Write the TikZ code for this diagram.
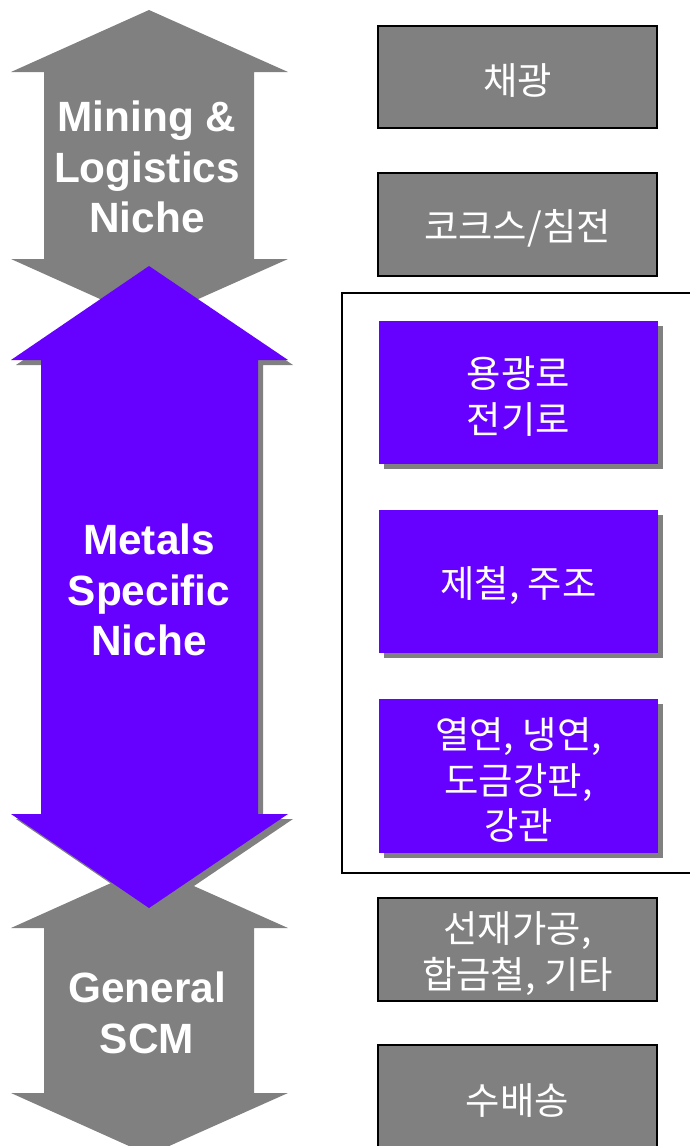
\documentclass[tikz,border=0pt]{standalone}
\usepackage{fontspec}
\setmainfont{Liberation Sans}
\newfontfamily\kr{Noto Sans CJK KR}
\definecolor{vio}{RGB}{102,0,255}
\definecolor{gr}{RGB}{128,128,128}
\begin{document}
\begin{tikzpicture}[x=1bp,y=-1bp,
  arrowtext/.style={text=white,font=\fontsize{42.5}{51}\selectfont\bfseries,align=center,inner sep=0},
  boxtext/.style={text=white,font=\kr\fontsize{37.5}{45.5}\selectfont,align=center,inner sep=0,yshift=-4bp},
  graybox/.style={fill=gr,draw=black,line width=2bp,minimum width=279bp,inner sep=0},
  viobox/.style={fill=vio,minimum width=279bp,inner sep=0},
  shadowbox/.style={fill=gr,minimum width=279bp,inner sep=0}]
\useasboundingbox (0,0) rectangle (690,1146);
% top gray arrow
\fill[gr] (149,10) -- (288,72) -- (254,72) -- (254,259) -- (288,259) -- (149,321) -- (11,259) -- (44,259) -- (44,72) -- (11,72) -- cycle;
% bottom gray arrow
\fill[gr] (149,866) -- (288,928) -- (254,928) -- (254,1093) -- (288,1093) -- (149,1155) -- (11,1093) -- (44,1093) -- (44,928) -- (11,928) -- cycle;
% purple arrow shadow
\fill[gr,shift={(5,5)}] (149,266) -- (288,360) -- (258,360) -- (258,814) -- (288,814) -- (149,908) -- (11,814) -- (41,814) -- (41,360) -- (11,360) -- cycle;
% purple arrow
\fill[vio] (149,266) -- (288,360) -- (258,360) -- (258,814) -- (288,814) -- (149,908) -- (11,814) -- (41,814) -- (41,360) -- (11,360) -- cycle;
\node[arrowtext] (t1) at (147,167) {Mining \&\hspace{10bp}\\Logistics\\Niche};
\node[arrowtext] (t2) at (149,590) {Metals\\Specific\\Niche};
\node[arrowtext] (t3) at (147,1013) {General\\SCM};
% frame
\draw[line width=2bp] (342,293) rectangle (693,873);
% gray boxes
\node[graybox,minimum height=102bp,label={[boxtext]center:채광}] (g1) at (517.5,77) {};
\node[graybox,minimum height=103bp,label={[boxtext]center:코크스/침전}] (g2) at (517.5,224.5) {};
\node[graybox,minimum height=103bp,label={[boxtext]center:선재가공,\\합금철, 기타}] (g3) at (517.5,949.5) {};
\node[graybox,minimum height=103bp,label={[boxtext]center:수배송}] (g4) at (517.5,1096.5) {};
% purple boxes with shadows
\node[shadowbox,minimum height=143bp] (s1) at (523.5,397.5) {};
\node[shadowbox,minimum height=143bp] (s2) at (523.5,586.5) {};
\node[shadowbox,minimum height=154bp] (s3) at (523.5,781) {};
\node[viobox,minimum height=143bp,label={[boxtext]center:용광로\\전기로}] (p1) at (518.5,392.5) {};
\node[viobox,minimum height=143bp,label={[boxtext]center:제철, 주조}] (p2) at (518.5,581.5) {};
\node[viobox,minimum height=154bp,label={[boxtext]center:열연, 냉연,\\도금강판,\\강관}] (p3) at (518.5,776) {};
\end{tikzpicture}
\end{document}
